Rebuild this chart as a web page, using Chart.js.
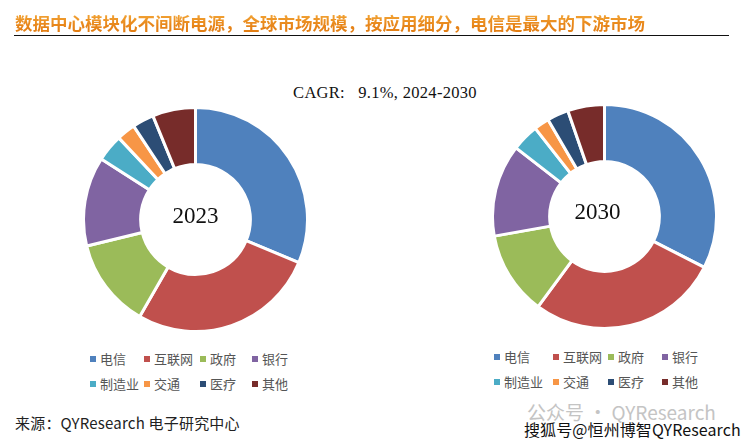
<!DOCTYPE html>
<html><head><meta charset="utf-8">
<script src="https://cdn.jsdelivr.net/npm/chart.js@4"></script>
<style>
html,body{margin:0;padding:0;background:#fff;width:749px;height:442px;overflow:hidden;position:relative;font-family:"Noto Sans CJK SC",sans-serif;}
#title{position:absolute;left:15px;top:10px;font-size:17.5px;font-weight:bold;white-space:nowrap;letter-spacing:0;
 background:linear-gradient(180deg,#F6B040 0%,#E8861A 60%,#E07A10 100%);-webkit-background-clip:text;background-clip:text;color:transparent;}
#rule{position:absolute;left:14px;top:35px;width:715px;height:0;border-top:1.5px solid #111;}
#cagr{position:absolute;left:0;width:770px;top:83px;text-align:center;font-family:"Liberation Serif",serif;font-size:16.5px;color:#111;white-space:pre;letter-spacing:0.3px;}
.cv{position:absolute;}
.leg{position:absolute;font-size:13px;color:#555;}
.li{position:absolute;white-space:nowrap;line-height:16px;}
.li i{display:inline-block;width:6px;height:6px;margin-right:4px;vertical-align:2px;}
#src{position:absolute;left:15px;top:412px;font-size:15px;color:#222;font-family:"Noto Sans CJK SC",sans-serif;letter-spacing:0.2px;}
#wm1{position:absolute;left:527px;top:398px;font-size:19px;color:#c4c4c4;font-family:"Noto Sans CJK SC",sans-serif;white-space:nowrap;}
#wm2{position:absolute;left:524px;top:417px;font-size:16px;color:#111;font-family:"Noto Sans CJK SC",sans-serif;white-space:nowrap;letter-spacing:0.1px;
 text-shadow:1px 0 #fff,-1px 0 #fff,0 1px #fff,0 -1px #fff;}
</style></head><body>
<div id="title">数据中心模块化不间断电源，全球市场规模，按应用细分，电信是最大的下游市场</div>
<div id="rule"></div>
<div id="cagr">CAGR:   9.1%, 2024-2030</div>
<canvas id="c1" class="cv"></canvas>
<canvas id="c2" class="cv"></canvas>
<div id="leg1" class="leg"></div>
<div id="leg2" class="leg"></div>
<div id="src">来源：QYResearch 电子研究中心</div>
<div id="wm1">公众号 · QYResearch</div>
<div id="wm2">搜狐号@恒州博智QYResearch</div>
<script>
const categories = ["电信","互联网","政府","银行","制造业","交通","医疗","其他"];
const share2023 = [31.3, 27.0, 12.9, 12.9, 3.9, 2.7, 3.1, 6.2];
const share2030 = [32.5, 27.6, 12.1, 13.3, 3.9, 2.2, 3.1, 5.3];
const yearLabels = ["2023","2030"];
const colors = ["#4F81BD","#C0504D","#9BBB59","#8064A2","#4BACC6","#F79646","#2C4D75","#772C2A"];

const centerText = {
  id:'centerText',
  afterDraw(chart, args, opts){
    const arc = chart.getDatasetMeta(0).data[0];
    if(!arc) return;
    const ctx = chart.ctx;
    ctx.save();
    ctx.font = '23px "Liberation Serif", serif';
    ctx.fillStyle = '#111';
    ctx.textAlign = 'center';
    ctx.textBaseline = 'middle';
    ctx.fillText(opts.text, arc.x + (opts.dx||0), arc.y + (opts.dy||0));
    ctx.restore();
  }
};

function makeDonut(id, data, label, left, top, size, dx, dy){
  const cv = document.getElementById(id);
  cv.style.left = left+'px'; cv.style.top = top+'px';
  cv.style.width = size+'px'; cv.style.height = size+'px';
  cv.width = size; cv.height = size;
  new Chart(cv, {
    type:'doughnut',
    data:{labels:categories, datasets:[{data:data, backgroundColor:colors, borderColor:'#fff', borderWidth:3, hoverOffset:0}]},
    options:{
      responsive:false, animation:false, cutout:'49%',
      layout:{padding:0},
      plugins:{legend:{display:false}, tooltip:{enabled:false}, centerText:{text:label, dx:dx, dy:dy}}
    },
    plugins:[centerText]
  });
}
makeDonut('c1', share2023, yearLabels[0], 82, 106, 227, 0, -3);
makeDonut('c2', share2030, yearLabels[1], 491, 103, 227, -7, -4);

function makeLegend(id, left, top, cols){
  const el = document.getElementById(id);
  el.style.left = left+'px'; el.style.top = top+'px';
  categories.forEach((c,i)=>{
    const d = document.createElement('div');
    d.className='li';
    d.style.left = cols[i%4]+'px';
    d.style.top = (Math.floor(i/4)*25)+'px';
    d.innerHTML = '<i style="background:'+colors[i]+'"></i>'+c;
    el.appendChild(d);
  });
}
makeLegend('leg1', 90, 351, [0, 54, 110, 162]);
makeLegend('leg2', 494, 349, [0, 59, 114, 168]);
</script>
</body></html>
